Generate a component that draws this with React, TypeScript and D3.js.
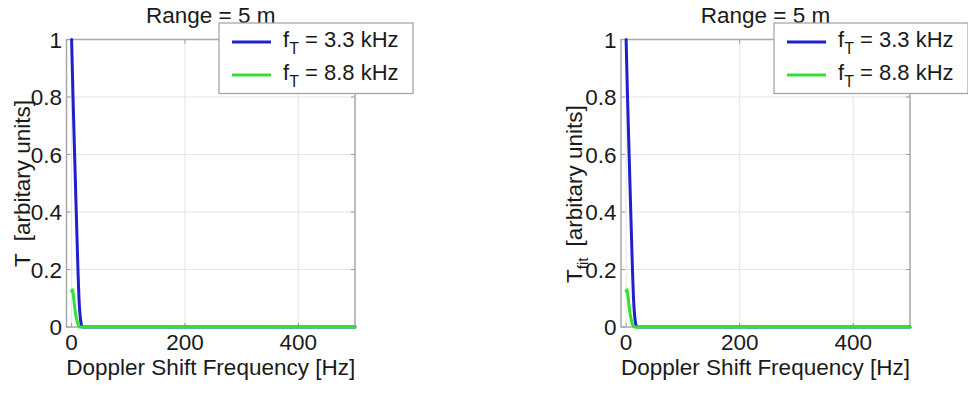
import React from "react";
import * as d3 from "d3";

// Transmission curves vs Doppler shift frequency, Range = 5 m
const freqBlue = [0, 2.5, 5.3, 8.2, 11.2, 13, 15, 17, 19, 500];
const tBlue = [1, 0.8, 0.6, 0.4, 0.2, 0.1, 0.04, 0.01, 0, 0];
const freqGreen = [0, 1.5, 2.5, 4, 5.5, 7.5, 9.5, 11.5, 14, 500];
const tGreen = [0.125, 0.13, 0.12, 0.095, 0.068, 0.04, 0.022, 0.008, 0, 0];

// fitted transmission (second panel)
const freqFitBlue = [0, 2.5, 5.3, 8.2, 11.2, 13, 15, 17, 19, 500];
const tFitBlue = [1, 0.8, 0.6, 0.4, 0.2, 0.1, 0.04, 0.01, 0, 0];
const freqFitGreen = [0, 1.5, 2.5, 4, 5.5, 7.5, 9.5, 11.5, 14, 500];
const tFitGreen = [0.125, 0.13, 0.12, 0.095, 0.068, 0.04, 0.022, 0.008, 0, 0];

const xTicks = [0, 200, 400];
const yTicks = [0, 0.2, 0.4, 0.6, 0.8, 1];
const xGridTicks = [0, 200, 400];
const yGridTicks = [0.2, 0.4, 0.6, 0.8];
const seriesNames = ["3.3 kHz", "8.8 kHz"];
const seriesColors = ["#1f1fcc", "#33e033"];
const titleText = "Range = 5 m";
const xLabel = "Doppler Shift Frequency [Hz]";

const FONT = "'Liberation Sans', Arial, sans-serif";
const TEXT = "#1a1a1a";
const FS = 22.5;

type PanelProps = {
  left: number;
  right: number;
  top: number;
  bottom: number;
  legendX: number;
  yLabelX: number;
  yLabelY: number;
  sub?: string;
  series: { f: number[]; t: number[] }[];
};

function Panel(p: PanelProps) {
  const x = d3.scaleLinear().domain([-9, 500]).range([p.left, p.right]);
  const y = d3.scaleLinear().domain([0, 1]).range([p.bottom, p.top]);
  const line = d3
    .line<[number, number]>()
    .x((d) => x(d[0]))
    .y((d) => y(d[1]))
    .curve(d3.curveMonotoneX);

  const lx = p.legendX;
  const ly = 23;
  const lw = 194;
  const lh = 70.5;

  return (
    <g fontFamily={FONT}>
      <rect x={p.left} y={p.top} width={p.right - p.left} height={p.bottom - p.top} fill="#fff" />
      {xGridTicks.map((t) => (
        <line key={"gx" + t} x1={x(t)} x2={x(t)} y1={p.top} y2={p.bottom} stroke="#e4e4e4" strokeWidth={1} />
      ))}
      {yGridTicks.map((t) => (
        <line key={"gy" + t} x1={p.left} x2={p.right} y1={y(t)} y2={y(t)} stroke="#e4e4e4" strokeWidth={1} />
      ))}
      {xTicks.map((t) => (
        <g key={"tx" + t}>
          <line x1={x(t)} x2={x(t)} y1={p.bottom} y2={p.bottom - 4} stroke="#999" />
          <line x1={x(t)} x2={x(t)} y1={p.top} y2={p.top + 4} stroke="#999" />
        </g>
      ))}
      {yTicks.map((t) => (
        <g key={"ty" + t}>
          <line x1={p.left} x2={p.left + 4} y1={y(t)} y2={y(t)} stroke="#999" />
          <line x1={p.right} x2={p.right - 4} y1={y(t)} y2={y(t)} stroke="#999" />
        </g>
      ))}
      <rect
        x={p.left}
        y={p.top}
        width={p.right - p.left}
        height={p.bottom - p.top}
        fill="none"
        stroke="#a8a8a8"
        strokeWidth={1.5}
      />
      {p.series.map((s, i) => (
        <path
          key={"s" + i}
          d={line(s.f.map((f, j) => [f, s.t[j]] as [number, number])) || ""}
          fill="none"
          stroke={seriesColors[i]}
          strokeWidth={3}
          strokeLinejoin="round"
          strokeLinecap="round"
        />
      ))}
      {yTicks.map((t) => (
        <text key={"yl" + t} x={p.left - 4.5} y={y(t) + 8} textAnchor="end" fontSize={FS} fill={TEXT}>
          {String(t)}
        </text>
      ))}
      {xTicks.map((t) => (
        <text key={"xl" + t} x={x(t)} y={349.5} textAnchor="middle" fontSize={FS} fill={TEXT}>
          {String(t)}
        </text>
      ))}
      <text x={(p.left + p.right) / 2} y={375} textAnchor="middle" fontSize={FS} fill={TEXT}>
        {xLabel}
      </text>
      <text x={(p.left + p.right) / 2} y={23} textAnchor="middle" fontSize={FS} fill={TEXT}>
        {titleText}
      </text>
      <text
        transform={`translate(${p.yLabelX},${p.yLabelY}) rotate(-90)`}
        fontSize={FS}
        fill={TEXT}
      >
        <tspan>T</tspan>
        {p.sub ? (
          <>
            <tspan fontSize={15} dy={6}>
              {p.sub}
            </tspan>
            <tspan dy={-6} dx={11}>
              [arbitary units]
            </tspan>
          </>
        ) : (
          <tspan dx={12}>[arbitary units]</tspan>
        )}
      </text>
      <rect x={lx} y={ly} width={lw} height={lh} fill="#fff" stroke="#a0a0a0" strokeWidth={1.2} />
      {seriesNames.map((name, i) => {
        const rowY = 42 + i * 33;
        return (
          <g key={"lg" + i}>
            <line x1={lx + 13} x2={lx + 52} y1={rowY} y2={rowY} stroke={seriesColors[i]} strokeWidth={3} />
            <text x={lx + 64} y={rowY + 5} fontSize={22} fill={TEXT}>
              <tspan>f</tspan>
              <tspan fontSize={16} dy={7}>
                T
              </tspan>
              <tspan dy={-7}>{" = " + name}</tspan>
            </text>
          </g>
        );
      })}
    </g>
  );
}

export default function App() {
  return (
    <svg
      width={968}
      height={394}
      viewBox="0 0 968 394"
      style={{ position: "absolute", left: 0, top: 0, background: "#fff" }}
    >
      <rect width={968} height={394} fill="#fff" />
      <Panel
        left={66.5}
        right={355}
        top={39.5}
        bottom={327}
        legendX={219}
        yLabelX={29.5}
        yLabelY={267}
        series={[
          { f: freqBlue, t: tBlue },
          { f: freqGreen, t: tGreen },
        ]}
      />
      <Panel
        left={621}
        right={910}
        top={39.5}
        bottom={327}
        legendX={774}
        yLabelX={582}
        yLabelY={283}
        sub="fit"
        series={[
          { f: freqFitBlue, t: tFitBlue },
          { f: freqFitGreen, t: tFitGreen },
        ]}
      />
    </svg>
  );
}
